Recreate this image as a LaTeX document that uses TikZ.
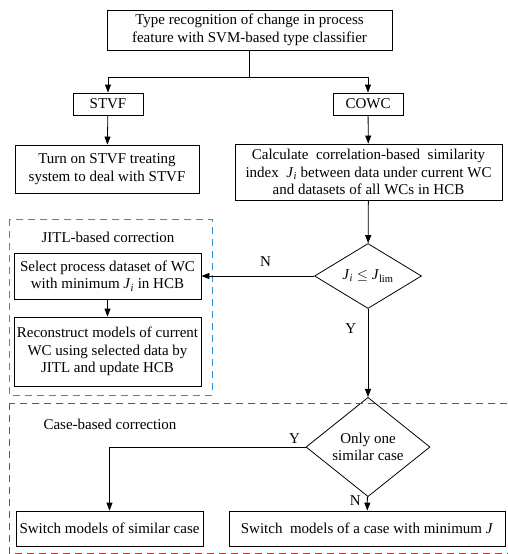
\documentclass[tikz,border=0pt]{standalone}
\usepackage{fontspec}
\setmainfont{Liberation Serif}
\usepackage{tikz}
\usetikzlibrary{arrows.meta,shapes.geometric}
\definecolor{jitlblue}{RGB}{40,145,220}
\definecolor{casered}{RGB}{225,30,45}

\begin{document}
\begin{tikzpicture}[x=1pt,y=-1pt,
  font=\fontsize{15}{17.5}\selectfont,
  box/.style={draw,line width=0.8pt,align=center,inner sep=0pt},
  decision/.style={draw,line width=0.8pt,diamond,align=center,inner sep=0pt},
  arr/.style={-{Triangle[length=8pt,width=6pt]}},
  link/.style={line width=0.8pt},
  region/.style={line width=1pt,dash pattern=on 7pt off 5pt}]
\useasboundingbox (0,0) rectangle (507,554);
\node[box,minimum width=285,minimum height=40] (recog) at (249.5,30) {Type recognition of change in process\\feature with SVM-based type classifier};
\node[box,minimum width=70,minimum height=22] (stvf) at (108,104) {STVF};
\node[box,minimum width=70,minimum height=22] (cowc) at (368,104) {COWC};
\node[box,minimum width=184,minimum height=48] (turnon) at (107,169) {Turn on STVF treating\\system to deal with STVF};
\node[box,minimum width=267,minimum height=56] (calc) at (368.5,172) {Calculate\ \ correlation-based\ \ similarity\\index\ \ \textit{J}\textsubscript{\textit{i}} between data under current WC\\and datasets of all WCs in HCB};
\node[decision,minimum width=107,minimum height=65] (check) at (368,276) {\textit{J}\textsubscript{\textit{i}} $\leq$ \textit{J}\textsubscript{lim}};
\node[box,minimum width=187,minimum height=46] (select) at (107.5,276) {Select process dataset of WC\\with minimum \textit{J}\textsubscript{\textit{i}} in HCB};
\node[box,minimum width=187,minimum height=69] (rebuild) at (107.5,351.5) {Reconstruct models of current\\WC using selected data by\\JITL and update HCB};
\node[decision,minimum width=124,minimum height=68] (onecase) at (368,447) {Only one\\similar case};
\node[box,minimum width=187,minimum height=35] (switchA) at (109.5,528.5) {Switch models of similar case};
\node[box,minimum width=276,minimum height=35] (switchB) at (367,528.5) {Switch\ \ models of a case with minimum \textit{J}};

\draw[region,draw=jitlblue] (9,219) rectangle (212,395);
\draw[region,draw=casered] (9,403) rectangle (510,553);
\node (jitltitle) at (108,237) {JITL-based correction};
\node (casetitle) at (110,424) {Case-based correction};

\coordinate (split) at (249.5,77);
\draw[link] (recog) -- (split);
\draw[link,arr] (split) -| (stvf);
\draw[link,arr] (split) -| (cowc);
\draw[link,arr] (stvf) -- (turnon);
\draw[link,arr] (cowc) -- (calc);
\draw[link,arr] (calc) -- (check);
\draw[link,arr] (check) -- node[above=6pt,pos=0.43] {N} (select);
\draw[link,arr] (select) -- (rebuild);
\draw[link,arr] (check) -- node[left=8pt,pos=0.22] {Y} (onecase);
\draw[link,arr] (onecase.west) -| node[above left,xshift=-2pt,pos=0.0] {Y} (switchA);
\draw[link,arr] (onecase) -- node[left=3pt,pos=0.3] {N} (switchB);
\end{tikzpicture}
\end{document}
